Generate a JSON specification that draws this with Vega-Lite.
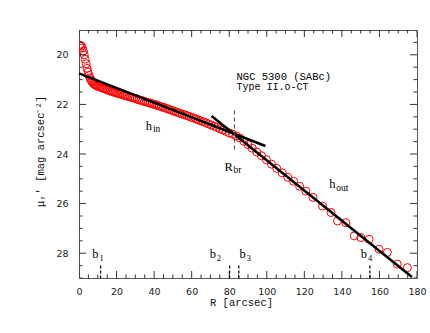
{
  "$schema": "https://vega.github.io/schema/vega-lite/v6.json",
  "width": 338,
  "height": 248,
  "autosize": {"type": "none"},
  "padding": {"left": 79, "top": 30, "right": 13, "bottom": 55},
  "background": "white",
  "config": {"view": {"stroke": "#555", "strokeWidth": 1}},
  "datasets": {
    "prof": [
      {"R": 0.3, "mu": 19.62}, {"R": 0.8, "mu": 19.62}, {"R": 1.3, "mu": 19.65}, {"R": 1.8, "mu": 19.72},
      {"R": 2.3, "mu": 19.85}, {"R": 2.8, "mu": 20.0}, {"R": 3.3, "mu": 20.18}, {"R": 3.8, "mu": 20.36},
      {"R": 4.3, "mu": 20.55}, {"R": 4.8, "mu": 20.7}, {"R": 5.3, "mu": 20.83}, {"R": 5.8, "mu": 20.93},
      {"R": 6.3, "mu": 21.01}, {"R": 6.8, "mu": 21.07}, {"R": 7.3, "mu": 21.12}, {"R": 7.8, "mu": 21.16},
      {"R": 8.3, "mu": 21.19}, {"R": 8.8, "mu": 21.22}, {"R": 9.3, "mu": 21.24}, {"R": 9.8, "mu": 21.26},
      {"R": 10.5, "mu": 21.28}, {"R": 11.2, "mu": 21.3}, {"R": 12.0, "mu": 21.32}, {"R": 12.8, "mu": 21.35},
      {"R": 13.6, "mu": 21.37}, {"R": 14.4, "mu": 21.39}, {"R": 15.2, "mu": 21.42}, {"R": 16.0, "mu": 21.44},
      {"R": 16.8, "mu": 21.46}, {"R": 17.6, "mu": 21.48}, {"R": 18.4, "mu": 21.5}, {"R": 19.2, "mu": 21.52},
      {"R": 20.0, "mu": 21.54}, {"R": 20.9, "mu": 21.56}, {"R": 21.8, "mu": 21.58}, {"R": 22.7, "mu": 21.6},
      {"R": 23.6, "mu": 21.62}, {"R": 24.5, "mu": 21.64}, {"R": 25.4, "mu": 21.66}, {"R": 26.3, "mu": 21.68},
      {"R": 27.2, "mu": 21.7}, {"R": 28.1, "mu": 21.72}, {"R": 29.0, "mu": 21.74}, {"R": 30.0, "mu": 21.76},
      {"R": 31.0, "mu": 21.79}, {"R": 32.0, "mu": 21.82}, {"R": 33.0, "mu": 21.84}, {"R": 34.0, "mu": 21.86},
      {"R": 35.0, "mu": 21.89}, {"R": 36.0, "mu": 21.91}, {"R": 37.0, "mu": 21.93}, {"R": 38.0, "mu": 21.95},
      {"R": 39.0, "mu": 21.98}, {"R": 40.0, "mu": 22.0}, {"R": 41.0, "mu": 22.02}, {"R": 42.0, "mu": 22.05},
      {"R": 43.0, "mu": 22.07}, {"R": 44.0, "mu": 22.1}, {"R": 45.0, "mu": 22.12}, {"R": 46.1, "mu": 22.15},
      {"R": 47.2, "mu": 22.18}, {"R": 48.3, "mu": 22.21}, {"R": 49.4, "mu": 22.24}, {"R": 50.5, "mu": 22.27},
      {"R": 51.6, "mu": 22.3}, {"R": 52.7, "mu": 22.33}, {"R": 53.8, "mu": 22.36}, {"R": 55.0, "mu": 22.39},
      {"R": 56.2, "mu": 22.42}, {"R": 57.4, "mu": 22.45}, {"R": 58.6, "mu": 22.48}, {"R": 59.8, "mu": 22.52},
      {"R": 61.0, "mu": 22.55}, {"R": 62.3, "mu": 22.59}, {"R": 63.6, "mu": 22.63}, {"R": 64.9, "mu": 22.66},
      {"R": 66.2, "mu": 22.7}, {"R": 67.6, "mu": 22.74}, {"R": 69.0, "mu": 22.79}, {"R": 70.4, "mu": 22.83},
      {"R": 71.9, "mu": 22.88}, {"R": 73.4, "mu": 22.93}, {"R": 75.0, "mu": 22.98}, {"R": 76.6, "mu": 23.03},
      {"R": 78.3, "mu": 23.09}, {"R": 80.0, "mu": 23.15}, {"R": 81.8, "mu": 23.2}, {"R": 83.7, "mu": 23.27},
      {"R": 85.7, "mu": 23.36}, {"R": 87.8, "mu": 23.49}, {"R": 90.0, "mu": 23.62}, {"R": 92.3, "mu": 23.77},
      {"R": 94.7, "mu": 23.92}, {"R": 97.2, "mu": 24.07}, {"R": 99.8, "mu": 24.23}, {"R": 102.5, "mu": 24.41},
      {"R": 105.3, "mu": 24.58}, {"R": 108.2, "mu": 24.76}, {"R": 111.2, "mu": 24.94}, {"R": 114.3, "mu": 25.1},
      {"R": 117.5, "mu": 25.3}, {"R": 120.8, "mu": 25.5}, {"R": 124.6, "mu": 25.75}, {"R": 129.7, "mu": 26.1},
      {"R": 134.2, "mu": 26.36}, {"R": 137.7, "mu": 26.7}, {"R": 142.1, "mu": 26.77}, {"R": 146.6, "mu": 27.3},
      {"R": 150.1, "mu": 27.37}, {"R": 154.5, "mu": 27.44}, {"R": 159.8, "mu": 27.84}, {"R": 164.2, "mu": 27.97},
      {"R": 169.5, "mu": 28.44}, {"R": 174.9, "mu": 28.58}
    ],
    "fits": [
      {"fit": "in", "R": 0, "mu": 20.75}, {"fit": "in", "R": 99.3, "mu": 23.68},
      {"fit": "out", "R": 70.6, "mu": 22.47}, {"fit": "out", "R": 177.3, "mu": 28.96}
    ],
    "xt": [
      {"v": 0}, {"v": 5}, {"v": 10}, {"v": 15}, {"v": 20}, {"v": 25}, {"v": 30}, {"v": 35}, {"v": 40}, {"v": 45},
      {"v": 50}, {"v": 55}, {"v": 60}, {"v": 65}, {"v": 70}, {"v": 75}, {"v": 80}, {"v": 85}, {"v": 90}, {"v": 95},
      {"v": 100}, {"v": 105}, {"v": 110}, {"v": 115}, {"v": 120}, {"v": 125}, {"v": 130}, {"v": 135}, {"v": 140},
      {"v": 145}, {"v": 150}, {"v": 155}, {"v": 160}, {"v": 165}, {"v": 170}, {"v": 175}, {"v": 180}
    ],
    "yt": [
      {"v": 19}, {"v": 19.5}, {"v": 20}, {"v": 20.5}, {"v": 21}, {"v": 21.5}, {"v": 22}, {"v": 22.5}, {"v": 23},
      {"v": 23.5}, {"v": 24}, {"v": 24.5}, {"v": 25}, {"v": 25.5}, {"v": 26}, {"v": 26.5}, {"v": 27}, {"v": 27.5},
      {"v": 28}, {"v": 28.5}, {"v": 29}
    ],
    "brk": [{"R": 82.8, "mu1": 22.25, "mu2": 23.9}],
    "bks": [
      {"R": 11.5, "mu1": 28.5, "mu2": 29}, {"R": 80.2, "mu1": 28.5, "mu2": 29},
      {"R": 85.1, "mu1": 28.5, "mu2": 29}, {"R": 154.9, "mu1": 28.5, "mu2": 29}
    ],
    "big": [
      {"R": 35.6, "mu": 23.02, "t": "h"}, {"R": 77.5, "mu": 24.69, "t": "R"}, {"R": 133.3, "mu": 25.39, "t": "h"}
    ],
    "bigsub": [
      {"R": 39.4, "mu": 23.12, "t": "in"}, {"R": 82.3, "mu": 24.78, "t": "br"}, {"R": 137.0, "mu": 25.5, "t": "out"}
    ],
    "blab": [
      {"R": 7.1, "mu": 28.2, "t": "b"}, {"R": 69.6, "mu": 28.2, "t": "b"},
      {"R": 85.5, "mu": 28.2, "t": "b"}, {"R": 150.1, "mu": 28.2, "t": "b"}
    ],
    "bsub": [
      {"R": 10.9, "mu": 28.31, "t": "1"}, {"R": 73.4, "mu": 28.31, "t": "2"},
      {"R": 89.3, "mu": 28.31, "t": "3"}, {"R": 153.9, "mu": 28.31, "t": "4"}
    ],
    "ngc": [{"R": 83.9, "mu": 21.0, "t": "NGC 5300 (SABc)"}],
    "typ": [{"R": 83.9, "mu": 21.41, "t": "Type II.o-CT"}]
  },
  "resolve": {"axis": {"x": "independent", "y": "independent"}},
  "layer": [
    {
      "data": {"name": "prof"},
      "mark": {"type": "point", "shape": "circle", "filled": false, "stroke": "#ff0000", "strokeWidth": 1, "size": 64, "clip": true, "opacity": 1},
      "encoding": {
        "x": {"field": "R", "type": "quantitative",
          "scale": {"domain": [0, 180], "nice": false, "zero": false},
          "axis": {"orient": "bottom", "title": "R [arcsec]", "titleFont": "Liberation Mono", "titleFontSize": 10.5, "titleFontWeight": "normal", "titleColor": "#111",
            "titleX": 162, "titleY": 19, "titleBaseline": "top", "titleAlign": "center",
            "values": [0, 20, 40, 60, 80, 100, 120, 140, 160, 180], "format": "d",
            "labelFont": "DejaVu Sans", "labelFontSize": 9.5, "labelColor": "#222", "labelPadding": 8, "labelFlush": false, "labelOverlap": false,
            "ticks": false, "tickSize": 0, "domain": false, "grid": false}},
        "y": {"field": "mu", "type": "quantitative",
          "scale": {"domain": [19, 29], "nice": false, "zero": false, "reverse": true},
          "axis": {"orient": "left", "title": "μᵣ′  [mag arcsec⁻²]", "titleFont": "Liberation Mono", "titleFontSize": 10.5, "titleFontWeight": "normal", "titleColor": "#111",
            "titleX": -34, "titleY": 121, "titleAngle": 270, "titleBaseline": "bottom", "titleAlign": "center",
            "values": [20, 22, 24, 26, 28], "format": "d",
            "labelFont": "DejaVu Sans", "labelFontSize": 9.5, "labelColor": "#222", "labelPadding": 11, "labelFlush": false, "labelOverlap": false,
            "ticks": false, "tickSize": 0, "domain": false, "grid": false}}
      }
    },
    {
      "data": {"name": "fits"},
      "mark": {"type": "line", "color": "black", "strokeWidth": 2.6},
      "encoding": {
        "detail": {"field": "fit"},
        "x": {"field": "R", "type": "quantitative", "axis": null},
        "y": {"field": "mu", "type": "quantitative", "axis": null}
      }
    },
    {
      "data": {"name": "xt"},
      "transform": [{"filter": "datum.v % 20 === 0"}],
      "layer": [
        {"mark": {"type": "tick", "orient": "vertical", "size": 14, "thickness": 1, "color": "#333", "opacity": 1, "clip": true},
         "encoding": {"x": {"field": "v", "type": "quantitative", "axis": null}, "y": {"datum": 29, "type": "quantitative", "axis": null}}},
        {"mark": {"type": "tick", "orient": "vertical", "size": 14, "thickness": 1, "color": "#333", "opacity": 1, "clip": true},
         "encoding": {"x": {"field": "v", "type": "quantitative", "axis": null}, "y": {"datum": 19, "type": "quantitative", "axis": null}}}
      ]
    },
    {
      "data": {"name": "xt"},
      "transform": [{"filter": "datum.v % 20 !== 0"}],
      "layer": [
        {"mark": {"type": "tick", "orient": "vertical", "size": 7, "thickness": 1, "color": "#333", "opacity": 1, "clip": true},
         "encoding": {"x": {"field": "v", "type": "quantitative", "axis": null}, "y": {"datum": 29, "type": "quantitative", "axis": null}}},
        {"mark": {"type": "tick", "orient": "vertical", "size": 7, "thickness": 1, "color": "#333", "opacity": 1, "clip": true},
         "encoding": {"x": {"field": "v", "type": "quantitative", "axis": null}, "y": {"datum": 19, "type": "quantitative", "axis": null}}}
      ]
    },
    {
      "data": {"name": "yt"},
      "transform": [{"filter": "datum.v % 2 === 0"}],
      "layer": [
        {"mark": {"type": "tick", "orient": "horizontal", "size": 14, "thickness": 1, "color": "#333", "opacity": 1, "clip": true},
         "encoding": {"y": {"field": "v", "type": "quantitative", "axis": null}, "x": {"datum": 0, "type": "quantitative", "axis": null}}},
        {"mark": {"type": "tick", "orient": "horizontal", "size": 14, "thickness": 1, "color": "#333", "opacity": 1, "clip": true},
         "encoding": {"y": {"field": "v", "type": "quantitative", "axis": null}, "x": {"datum": 180, "type": "quantitative", "axis": null}}}
      ]
    },
    {
      "data": {"name": "yt"},
      "transform": [{"filter": "datum.v % 2 !== 0"}],
      "layer": [
        {"mark": {"type": "tick", "orient": "horizontal", "size": 7, "thickness": 1, "color": "#333", "opacity": 1, "clip": true},
         "encoding": {"y": {"field": "v", "type": "quantitative", "axis": null}, "x": {"datum": 0, "type": "quantitative", "axis": null}}},
        {"mark": {"type": "tick", "orient": "horizontal", "size": 7, "thickness": 1, "color": "#333", "opacity": 1, "clip": true},
         "encoding": {"y": {"field": "v", "type": "quantitative", "axis": null}, "x": {"datum": 180, "type": "quantitative", "axis": null}}}
      ]
    },
    {
      "data": {"name": "brk"},
      "mark": {"type": "rule", "color": "#555", "strokeWidth": 1.2, "strokeDash": [4, 3]},
      "encoding": {
        "x": {"field": "R", "type": "quantitative", "axis": null},
        "y": {"field": "mu1", "type": "quantitative", "axis": null},
        "y2": {"field": "mu2"}
      }
    },
    {
      "data": {"name": "bks"},
      "mark": {"type": "rule", "color": "black", "strokeWidth": 1.2, "strokeDash": [3, 2]},
      "encoding": {
        "x": {"field": "R", "type": "quantitative", "axis": null},
        "y": {"field": "mu1", "type": "quantitative", "axis": null},
        "y2": {"field": "mu2"}
      }
    },
    {
      "data": {"name": "big"},
      "mark": {"type": "text", "font": "Liberation Serif", "fontSize": 12.5, "align": "left", "baseline": "alphabetic", "color": "black"},
      "encoding": {
        "x": {"field": "R", "type": "quantitative", "axis": null},
        "y": {"field": "mu", "type": "quantitative", "axis": null},
        "text": {"field": "t"}
      }
    },
    {
      "data": {"name": "bigsub"},
      "mark": {"type": "text", "font": "Liberation Serif", "fontSize": 9.5, "align": "left", "baseline": "alphabetic", "color": "black"},
      "encoding": {
        "x": {"field": "R", "type": "quantitative", "axis": null},
        "y": {"field": "mu", "type": "quantitative", "axis": null},
        "text": {"field": "t"}
      }
    },
    {
      "data": {"name": "blab"},
      "mark": {"type": "text", "font": "Liberation Serif", "fontSize": 12.5, "align": "left", "baseline": "alphabetic", "color": "black"},
      "encoding": {
        "x": {"field": "R", "type": "quantitative", "axis": null},
        "y": {"field": "mu", "type": "quantitative", "axis": null},
        "text": {"field": "t"}
      }
    },
    {
      "data": {"name": "bsub"},
      "mark": {"type": "text", "font": "Liberation Serif", "fontSize": 8.5, "align": "left", "baseline": "alphabetic", "color": "black"},
      "encoding": {
        "x": {"field": "R", "type": "quantitative", "axis": null},
        "y": {"field": "mu", "type": "quantitative", "axis": null},
        "text": {"field": "t"}
      }
    },
    {
      "data": {"name": "ngc"},
      "mark": {"type": "text", "font": "Liberation Mono", "fontSize": 10.5, "align": "left", "baseline": "alphabetic", "color": "black"},
      "encoding": {
        "x": {"field": "R", "type": "quantitative", "axis": null},
        "y": {"field": "mu", "type": "quantitative", "axis": null},
        "text": {"field": "t"}
      }
    },
    {
      "data": {"name": "typ"},
      "mark": {"type": "text", "font": "Liberation Mono", "fontSize": 10, "align": "left", "baseline": "alphabetic", "color": "black"},
      "encoding": {
        "x": {"field": "R", "type": "quantitative", "axis": null},
        "y": {"field": "mu", "type": "quantitative", "axis": null},
        "text": {"field": "t"}
      }
    }
  ]
}
